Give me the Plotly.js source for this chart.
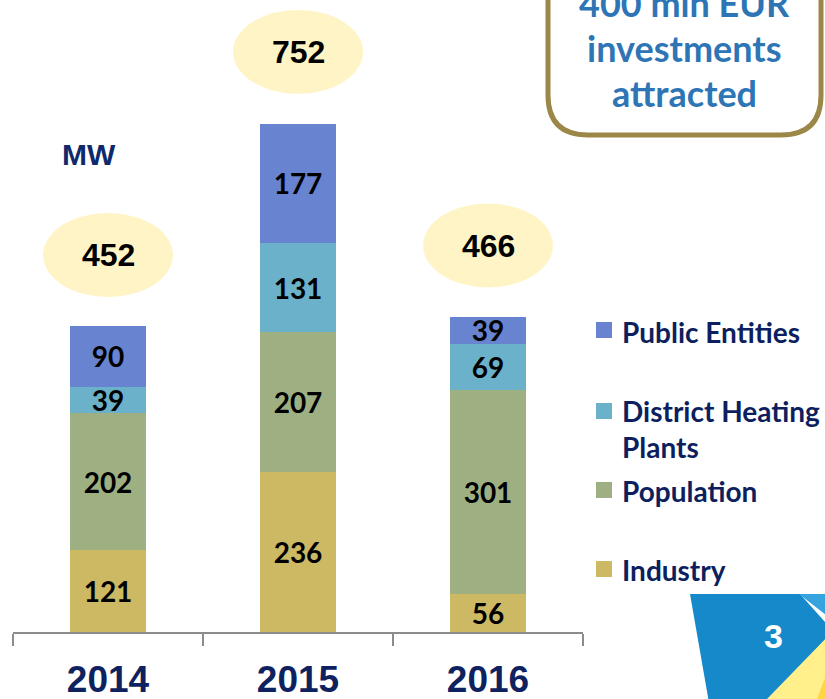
<!DOCTYPE html>
<html>
<head>
<meta charset="utf-8">
<script src="https://cdn.plot.ly/plotly-3.0.1.min.js"></script>
<style>
html,body{margin:0;padding:0;background:#fff;}
#chart{width:825px;height:699px;}
</style>
</head>
<body>
<div id="chart"></div>
<script>
// ---- data ----
var years = ['2014', '2015', '2016'];
var industry = [121, 236, 56];
var population = [202, 207, 301];
var districtHeating = [39, 131, 69];
var publicEntities = [90, 177, 39];
var totals = [452, 752, 466];
var seriesNames = ['Public Entities', 'District Heating<br>Plants', 'Population', 'Industry'];
var unitLabel = 'MW';
var boxLines = ['400 mln EUR', 'investments', 'attracted'];
var slideNumber = '3';

// ---- styling ----
var colors = {
  industry: '#cdb964',
  population: '#9eb082',
  dh: '#6bb1c9',
  pub: '#6883cf'
};
var navy = '#0d1f5e';

// plot geometry (pixels)
var L = 13, T = 0, PW = 570, PH = 632, W = 825, H = 699;
function px(x) { return (x - L) / PW; }
function py(y) { return (T + PH - y) / PH; }
function pathFromPx(pts, close) {
  var s = pts.map(function (p, i) {
    if (p[0] === 'Q') {
      return 'Q ' + px(p[1]) + ',' + py(p[2]) + ' ' + px(p[3]) + ',' + py(p[4]);
    }
    return (i === 0 ? 'M ' : 'L ') + px(p[0]) + ',' + py(p[1]);
  }).join(' ');
  return s + (close ? ' Z' : '');
}

var labelFamily = 'Lato, "Open Sans", sans-serif';

function barTrace(name, vals, color) {
  return {
    type: 'bar', name: name, x: years, y: vals,
    width: 0.4,
    marker: {color: color, line: {width: 0}},
    text: vals.map(String),
    textposition: 'inside',
    insidetextanchor: 'middle',
    textangle: 0,
    constraintext: 'none',
    textfont: {family: labelFamily, size: 28, color: '#000', weight: 'bold'},
    hoverinfo: 'skip'
  };
}

var data = [
  barTrace('Industry', industry, colors.industry),
  barTrace('Population', population, colors.population),
  barTrace('District Heating Plants', districtHeating, colors.dh),
  barTrace('Public Entities', publicEntities, colors.pub)
];

var shapes = [];
var annotations = [];

// total ellipses + labels
totals.forEach(function (t, i) {
  shapes.push({
    type: 'circle', xref: 'x', yref: 'y',
    x0: i - 0.342, x1: i + 0.342,
    ysizemode: 'pixel', yanchor: t, y0: 71 - 42, y1: 71 + 42,
    fillcolor: '#fff4c6', line: {width: 0}, layer: 'below'
  });
  annotations.push({
    x: i, y: t, xref: 'x', yref: 'y', yshift: 71,
    text: String(t), showarrow: false,
    font: {family: '"Liberation Sans", Arial, sans-serif', size: 32, color: '#000', weight: 'bold'},
    xanchor: 'center', yanchor: 'middle'
  });
});

// MW label
annotations.push({
  xref: 'paper', yref: 'paper', x: px(89), y: py(155),
  text: unitLabel, showarrow: false, xanchor: 'center', yanchor: 'middle',
  font: {family: '"Liberation Sans", Arial, sans-serif', size: 30, color: '#0f2a6b', weight: 'bold'}
});

// custom legend
var legendColors = [colors.pub, colors.dh, colors.population, colors.industry];
var sqCenters = [330, 411, 490, 569];
var txtCenters = [332, 429, 491, 570];
seriesNames.forEach(function (n, i) {
  var c = sqCenters[i];
  shapes.push({
    type: 'rect', xref: 'paper', yref: 'paper',
    x0: px(596), x1: px(612), y0: py(c + 8), y1: py(c - 8),
    fillcolor: legendColors[i], line: {width: 0}
  });
  annotations.push({
    xref: 'paper', yref: 'paper', x: px(620), y: py(txtCenters[i]),
    text: n, showarrow: false, xanchor: 'left', yanchor: 'middle', align: 'left',
    font: {family: 'Lato, sans-serif', size: 28, color: navy, weight: 'bold'}
  });
});

// callout box (top right)
shapes.push({
  type: 'path', xref: 'paper', yref: 'paper',
  path: pathFromPx([[548, -30], [548, 95], ['Q', 548, 135, 588, 135], [781, 135], ['Q', 821, 135, 821, 95], [821, -30]], false),
  fillcolor: '#ffffff', line: {color: '#9b8748', width: 5}
});
var boxY = [3, 48, 93];
boxLines.forEach(function (t, i) {
  annotations.push({
    xref: 'paper', yref: 'paper', x: px(685), y: py(boxY[i]),
    text: t, showarrow: false, xanchor: 'center', yanchor: 'middle',
    font: {family: 'Lato, sans-serif', size: 36, color: '#2e75b6', weight: 'bold'}
  });
});

// bottom-right decoration
shapes.push({
  type: 'path', xref: 'paper', yref: 'paper',
  path: pathFromPx([[690, 594], [800, 594], [825, 622], [825, 720], [712, 720]], true),
  fillcolor: '#1589c9', line: {width: 0}
});
shapes.push({
  type: 'path', xref: 'paper', yref: 'paper',
  path: pathFromPx([[799, 594], [830, 594], [830, 618]], true),
  fillcolor: '#35a4de', line: {width: 0}
});
shapes.push({
  type: 'path', xref: 'paper', yref: 'paper',
  path: pathFromPx([[767, 699], [830, 634], [830, 720], [767, 720]], true),
  fillcolor: '#fff08c', line: {width: 0}
});
shapes.push({
  type: 'path', xref: 'paper', yref: 'paper',
  path: pathFromPx([[817, 699], [830, 665], [830, 720], [817, 720]], true),
  fillcolor: '#ffd445', line: {width: 0}
});
annotations.push({
  xref: 'paper', yref: 'paper', x: px(773), y: py(636),
  text: slideNumber, showarrow: false, xanchor: 'center', yanchor: 'middle',
  font: {family: '"Liberation Sans", Arial, sans-serif', size: 34, color: '#ffffff', weight: 'bold'}
});

var layout = {
  width: W, height: H,
  margin: {l: L, r: W - L - PW, t: T, b: H - T - PH, pad: 0},
  paper_bgcolor: '#ffffff', plot_bgcolor: 'rgba(0,0,0,0)',
  barmode: 'stack',
  showlegend: false,
  hovermode: false,
  xaxis: {
    type: 'category', range: [-0.5, 2.5], fixedrange: true,
    showgrid: false, zeroline: false,
    showline: true, linecolor: '#8c8c8c', linewidth: 2,
    ticks: 'outside', tickson: 'boundaries', ticklen: 12, tickwidth: 2, tickcolor: '#8c8c8c',
    tickfont: {family: '"Liberation Sans", Arial, sans-serif', size: 37, color: '#0f2260', weight: 'bold'},
    ticklabelstandoff: 14
  },
  yaxis: {
    range: [0, 933.5], visible: false, fixedrange: true, showgrid: false, zeroline: false
  },
  shapes: shapes,
  annotations: annotations
};

Plotly.newPlot('chart', data, layout, {displayModeBar: false, staticPlot: true});
</script>
</body>
</html>
